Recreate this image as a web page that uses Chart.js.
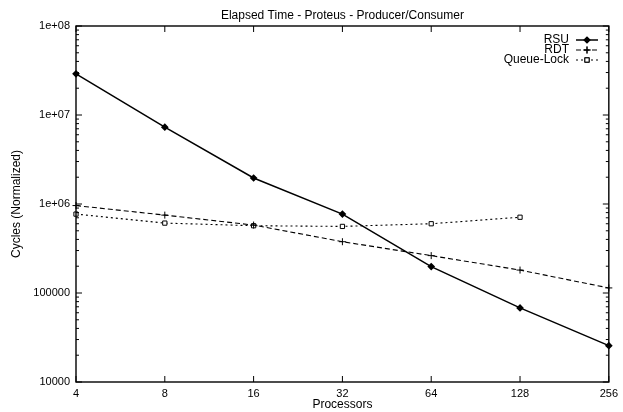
<!DOCTYPE html>
<html>
<head>
<meta charset="utf-8">
<script src="https://cdn.jsdelivr.net/npm/chart.js@4/dist/chart.umd.min.js"></script>
<style>
  html, body { margin: 0; padding: 0; background: #fff; }
</style>
</head>
<body>
<canvas id="chart" width="623" height="412"></canvas>
<script>
const processors = ['4', '8', '16', '32', '64', '128', '256'];
const rsu = [2.9e7, 7.3e6, 1.96e6, 7.7e5, 1.98e5, 6.8e4, 2.56e4];
const rdt = [9.6e5, 7.5e5, 5.8e5, 3.77e5, 2.63e5, 1.81e5, 1.14e5];
const queueLock = [7.7e5, 6.1e5, 5.7e5, 5.6e5, 6.0e5, 7.1e5, null];
const yTicks = [1e4, 1e5, 1e6, 1e7, 1e8];
const yTickLabels = ['10000', '100000', '1e+06', '1e+07', '1e+08'];
const chartTitle = 'Elapsed Time - Proteus - Producer/Consumer';

const FONT = 'Liberation Sans, Arial, Helvetica, sans-serif';

// gnuplot style frame with inward ticks (major + minor on the log axis)
const framePlugin = {
  id: 'frame',
  afterDatasetsDraw(chart) {
    const { ctx, chartArea: a, scales } = chart;
    const x = scales.x, y = scales.y;
    ctx.save();
    ctx.strokeStyle = '#000';
    ctx.lineWidth = 1.4;
    ctx.strokeRect(a.left, a.top, a.right - a.left, a.bottom - a.top);
    ctx.lineWidth = 1;
    ctx.beginPath();
    processors.forEach((p, i) => {
      const px = x.getPixelForValue(i);
      ctx.moveTo(px, a.bottom); ctx.lineTo(px, a.bottom - 6);
      ctx.moveTo(px, a.top); ctx.lineTo(px, a.top + 6);
    });
    for (let d = 1e4; d <= 1e8; d *= 10) {
      for (let k = 1; k <= 9; k++) {
        const v = d * k;
        if (v > 1e8) break;
        const py = y.getPixelForValue(v);
        const len = k === 1 ? 6 : 3;
        ctx.moveTo(a.left, py); ctx.lineTo(a.left + len, py);
        ctx.moveTo(a.right, py); ctx.lineTo(a.right - len, py);
      }
    }
    ctx.stroke();
    ctx.restore();
  }
};

// title centred over the plot and a gnuplot-like key: name, then line sample
const keyPlugin = {
  id: 'key',
  afterDraw(chart) {
    const { ctx, chartArea: a } = chart;
    ctx.save();
    ctx.font = '12px ' + FONT;
    ctx.fillStyle = '#000';
    ctx.textBaseline = 'middle';
    ctx.textAlign = 'center';
    ctx.fillText(chartTitle, (a.left + a.right) / 2, 16);
    ctx.textAlign = 'right';
    chart.data.datasets.forEach((ds, i) => {
      const ty = 40 + i * 10;
      ctx.fillStyle = '#000';
      ctx.fillText(ds.label, 569, ty);
      ctx.strokeStyle = '#000';
      ctx.lineWidth = ds.borderWidth;
      ctx.setLineDash(ds.borderDash || []);
      ctx.beginPath();
      ctx.moveTo(576, ty); ctx.lineTo(598, ty);
      ctx.stroke();
      ctx.setLineDash([]);
      Chart.helpers.drawPoint(ctx, {
        pointStyle: ds.pointStyle,
        radius: ds.pointRadius,
        borderWidth: 1
      }, 587, ty);
      ctx.fillStyle = ds.pointBackgroundColor;
      ctx.lineWidth = 1;
      ctx.fill();
      ctx.stroke();
    });
    ctx.restore();
  }
};

new Chart(document.getElementById('chart').getContext('2d'), {
  type: 'line',
  data: {
    labels: processors,
    datasets: [
      {
        label: 'RSU',
        data: rsu,
        borderColor: '#000',
        borderWidth: 1.5,
        pointStyle: 'rectRot',
        pointRadius: 2.8,
        pointBackgroundColor: '#000',
        pointBorderColor: '#000',
        clip: false
      },
      {
        label: 'RDT',
        data: rdt,
        borderColor: '#000',
        borderWidth: 1.1,
        borderDash: [5, 3],
        pointStyle: 'cross',
        pointRadius: 3.5,
        pointBackgroundColor: '#000',
        pointBorderColor: '#000',
        pointBorderWidth: 1,
        clip: false
      },
      {
        label: 'Queue-Lock',
        data: queueLock,
        borderColor: '#000',
        borderWidth: 1.1,
        borderDash: [2, 3],
        pointStyle: 'rect',
        pointRadius: 3,
        pointBackgroundColor: '#fff',
        pointBorderColor: '#000',
        pointBorderWidth: 1,
        clip: false
      }
    ]
  },
  options: {
    responsive: false,
    animation: false,
    layout: { padding: { left: 0, right: 11, top: 26, bottom: 0 } },
    plugins: {
      legend: { display: false },
      tooltip: { enabled: false },
      title: { display: false }
    },
    scales: {
      x: {
        type: 'category',
        offset: false,
        grid: { display: false, drawTicks: false },
        border: { display: false },
        ticks: { color: '#000', padding: 5, maxRotation: 0, font: { family: FONT, size: 11 } },
        title: {
          display: true,
          text: 'Processors',
          color: '#000',
          font: { family: FONT, size: 12 },
          padding: { top: 0, bottom: 0 }
        },
        afterFit: s => { s.height = 30; }
      },
      y: {
        type: 'logarithmic',
        min: 1e4,
        max: 1e8,
        grid: { display: false, drawTicks: false },
        border: { display: false },
        afterBuildTicks: s => { s.ticks = yTicks.map(v => ({ value: v })); },
        ticks: {
          color: '#000',
          padding: 6,
          font: { family: FONT, size: 11 },
          callback: v => yTickLabels[yTicks.indexOf(v)]
        },
        title: {
          display: true,
          text: 'Cycles (Normalized)',
          color: '#000',
          font: { family: FONT, size: 12 },
          padding: { top: 9, bottom: 0 }
        },
        afterFit: s => { s.width = 76; }
      }
    }
  },
  plugins: [framePlugin, keyPlugin]
});
</script>
</body>
</html>
